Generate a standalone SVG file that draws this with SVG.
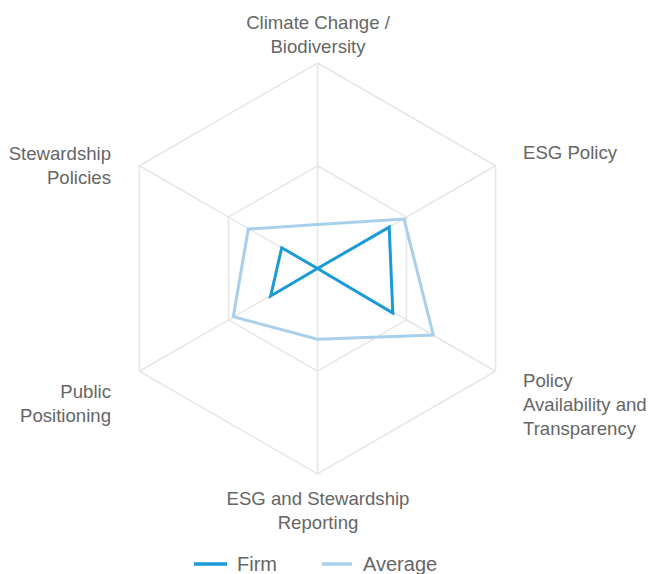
<svg xmlns="http://www.w3.org/2000/svg" width="648" height="574" viewBox="0 0 648 574">
<style>
.grid{fill:none;stroke:#e6e6e6;stroke-width:1.5}
.lbl{font-family:"Liberation Sans",Arial,sans-serif;font-size:18.6px;fill:#666}
.leg{font-family:"Liberation Sans",Arial,sans-serif;font-size:20px;fill:#666}
.firm{fill:none;stroke:#1b9ad8;stroke-width:3;stroke-linejoin:miter}
.avg{fill:none;stroke:#a8d0ea;stroke-width:3;stroke-linejoin:miter}
</style>
<rect width="648" height="574" fill="#fff"/>
<g id="grid">
<polygon class="grid" points="317.5,63 495.5,165.75 495.5,371.25 317.5,474 139.5,371.25 139.5,165.75"/>
<polygon class="grid" points="317.5,165.75 406.5,217.1 406.5,319.9 317.5,371.25 228.5,319.9 228.5,217.1"/>
<path class="grid" d="M317.5,268.5L317.5,63M317.5,268.5L495.5,165.75M317.5,268.5L495.5,371.25M317.5,268.5L317.5,474M317.5,268.5L139.5,371.25M317.5,268.5L139.5,165.75"/>
</g>
<g id="series">
<polygon id="average" class="avg" points="317.5,224.6 404,219 433.3,335 317.5,339.3 233.3,316.7 248.3,229"/>
<polygon id="firm" class="firm" points="317.5,268.5 389.2,227.1 392.8,313 317.5,268.5 270.7,296 281.7,247.7"/>
</g>
<g id="labels">
<g id="label-climate"><text class="lbl" x="318" y="29" text-anchor="middle">Climate Change /</text><text class="lbl" x="318" y="53" text-anchor="middle">Biodiversity</text></g>
<g id="label-esg-policy"><text class="lbl" x="523" y="159">ESG Policy</text></g>
<g id="label-policy-avail"><text class="lbl" x="523" y="386.5">Policy</text><text class="lbl" x="523" y="410.5">Availability and</text><text class="lbl" x="523" y="434.5">Transparency</text></g>
<g id="label-reporting"><text class="lbl" x="318" y="505" text-anchor="middle">ESG and Stewardship</text><text class="lbl" x="318" y="529" text-anchor="middle">Reporting</text></g>
<g id="label-public"><text class="lbl" x="111" y="398" text-anchor="end">Public</text><text class="lbl" x="111" y="422" text-anchor="end">Positioning</text></g>
<g id="label-stewardship"><text class="lbl" x="111" y="159.5" text-anchor="end">Stewardship</text><text class="lbl" x="111" y="183.5" text-anchor="end">Policies</text></g>
</g>
<g id="legend">
<line x1="194" y1="564" x2="227" y2="564" stroke="#1b9ad8" stroke-width="3.5"/>
<text class="leg" x="237" y="571">Firm</text>
<line x1="322" y1="564" x2="352" y2="564" stroke="#a8d0ea" stroke-width="3.5"/>
<text class="leg" x="363" y="571">Average</text>
</g>
</svg>
